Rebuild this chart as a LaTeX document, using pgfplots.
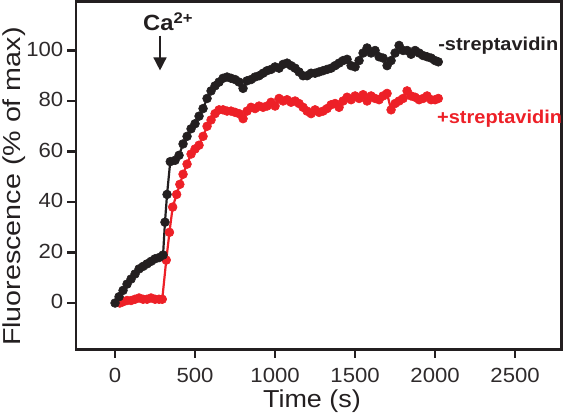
\documentclass[border=0pt]{standalone}
\usepackage{fontspec}
\setmainfont{Liberation Sans}[FakeStretch=1.08]
\newfontfamily\ylabfont{Liberation Sans}[FakeStretch=1.17]
\newfontfamily\xlabfont{Liberation Sans}[FakeStretch=1.1]
\usepackage{pgfplots}
\pgfplotsset{compat=1.18}
\usetikzlibrary{arrows.meta}
\definecolor{myred}{RGB}{237,32,39}
\definecolor{myblack}{RGB}{35,31,32}
\begin{document}
\begin{tikzpicture}
\begin{axis}[
  at={(0pt,0pt)}, anchor=south west,
  scale only axis, width=485.5pt, height=348pt,
  xmin=-244, xmax=2790, ymin=-18.4, ymax=119.4,
  axis line style={line width=2.4pt, myblack},
  xtick pos=bottom, ytick pos=left,
  tick align=inside, major tick length=0pt,
  xtick={0,500,1000,1500,2000,2500},
  ytick={0,20,40,60,80,100},
  /pgf/number format/assume math mode=true,
  /pgf/number format/1000 sep={},
  tick label style={font=\fontsize{20.5}{24}\selectfont, text=myblack!95},
  xticklabel style={anchor=base, inner sep=0pt, yshift=-33.5pt},
  yticklabel style={anchor=east, inner sep=0pt, xshift=-12.5pt, yshift=1.5pt},
  xlabel={Time (s)},
  ylabel={Fluorescence (\% of max)},
  every axis x label/.style={at={(axis description cs:0.486,-0.168)}, anchor=base, font=\xlabfont\fontsize{24.5}{28}\selectfont, text=myblack},
  every axis y label/.style={at={(axis description cs:-0.1277,0.468)}, rotate=90, anchor=center, font=\ylabfont\fontsize{24.5}{28}\selectfont, text=myblack},
  clip=false,
]
\addplot[myred, line width=2.2pt, mark=*, mark size=4.4pt, mark options={fill=myred, draw=myred, line width=0.6pt}] coordinates {
(30,0) (50,0.5) (75,1) (100,1) (125,1.5) (150,2) (175,1.5) (200,1.5) (225,2) (250,1.5) (275,1.5) (295,1.5)
(320,17) (340,28) (360,38) (385,43) (405,47) (425,51) (450,55) (475,59) (500,61) (525,62.5) (550,66) (575,70)
(600,72.5) (625,75) (650,76.5) (675,76.5) (700,76) (725,76) (750,75.5) (775,75) (800,73) (825,76) (850,77.5)
(875,77) (900,78) (925,77.5) (950,78) (975,79.5) (1000,78) (1025,81) (1050,80) (1075,80.5) (1100,79.5)
(1125,80) (1150,79) (1175,77.5) (1200,76) (1225,75) (1250,76.5) (1275,75.5) (1300,76) (1325,77) (1350,78.5)
(1375,79) (1400,77.5) (1425,80) (1450,81.5) (1475,80.5) (1500,82) (1525,81) (1550,82.5) (1575,80) (1600,82)
(1625,81) (1650,80.5) (1675,82) (1700,83) (1725,76.5) (1750,79) (1775,80) (1800,81) (1825,84) (1850,82)
(1875,81.5) (1900,80.5) (1925,81) (1950,82) (1975,80.5) (2000,80.5) (2020,81)
};
\addplot[myblack, line width=2.2pt, mark=*, mark size=4.4pt, mark options={fill=myblack, draw=myblack, line width=0.6pt}] coordinates {
(0,0) (25,2.5) (50,5) (75,7.5) (100,9.5) (125,11.5) (150,13.5) (175,14.5) (200,15.5) (225,16.5) (250,17.5)
(275,18) (300,19) (312,32) (325,43) (345,56) (375,56.5) (400,58.5) (425,63) (450,66) (475,69) (500,71)
(525,74) (550,77) (575,81) (600,84) (625,86) (650,87.5) (675,89) (700,89.5) (725,89) (750,88.5) (775,87.5)
(800,85) (825,88) (850,88.5) (875,89.5) (900,90) (925,91) (950,92) (975,92.5) (1000,93.5) (1025,93)
(1050,94.5) (1075,95) (1100,94) (1125,93) (1150,91.5) (1175,90) (1200,90) (1225,91) (1250,91) (1275,91.5)
(1300,92) (1325,92.5) (1350,93) (1375,94) (1400,95) (1425,96) (1450,96.5) (1475,94) (1500,93.5) (1525,96)
(1550,99) (1575,101) (1600,99) (1625,100) (1650,97.5) (1675,97) (1700,94) (1725,96) (1750,99) (1775,102)
(1800,100) (1825,100) (1850,98.5) (1875,100) (1900,99) (1925,98) (1950,97.5) (1975,97) (2000,96) (2020,95.5)
};
\pgfplotsinvokeforeach{0,500,1000,1500,2000,2500}{
  \draw[myblack, line width=2.2pt] (axis cs:#1,-18.4) -- ++(0pt,-8.5pt);
}
\pgfplotsinvokeforeach{0,20,40,60,80,100}{
  \draw[myblack, line width=2.2pt] (axis cs:-244,#1) -- ++(-8.5pt,0pt);
}
\draw[myblack, line width=1.5pt, -{Triangle[width=13pt,length=13pt]}] (axis cs:281,105.9) -- (axis cs:281,92.1);
\node[anchor=base west, inner sep=0pt, font=\bfseries\fontsize{22}{26}\selectfont, text=myblack] at (axis cs:175,107.9) {Ca\textsuperscript{2+}};
\node[anchor=base west, inner sep=0pt, font=\bfseries\fontsize{18.5}{22}\selectfont, text=myblack] at (axis cs:2019,100) {-streptavidin};
\node[anchor=base west, inner sep=0pt, font=\bfseries\fontsize{18.5}{22}\selectfont, text=myred] at (axis cs:2012,71) {+streptavidin};
\end{axis}
\pgfresetboundingbox
\useasboundingbox (-76pt,-69.5pt) rectangle (489pt,349.5pt);
\end{tikzpicture}
\end{document}
